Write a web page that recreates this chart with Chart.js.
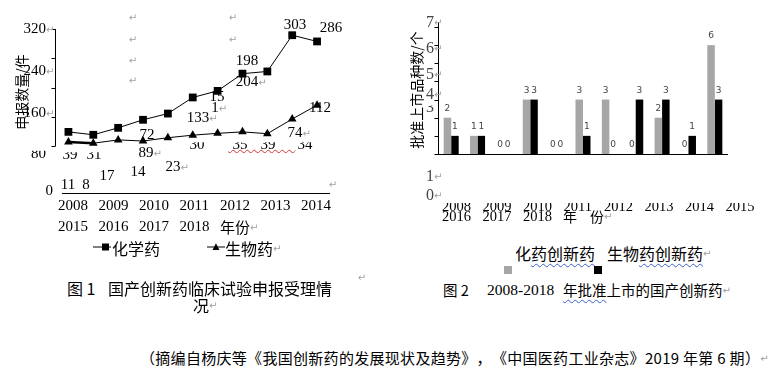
<!DOCTYPE html>
<html>
<head>
<meta charset="utf-8">
<script src="https://cdn.jsdelivr.net/npm/chart.js@4.4.0/dist/chart.umd.min.js"></script>
<style>
  body { margin: 0; background: #fff; }
  #page { position: relative; width: 776px; height: 374px; overflow: hidden; background: #fff;
          font-family: "Noto Sans CJK SC", sans-serif; color: #000; }
  .box { position: absolute; }
  .t { position: absolute; white-space: pre; line-height: 1; text-spacing-trim: space-all; }
  .num { font-family: "Liberation Serif", serif; font-size: 15px; }
  .cjk { font-family: "Noto Sans CJK SC", sans-serif; }
  .ret { position: absolute; left: 100%; top: 50%; transform: translateY(-45%);
         color: #a0a0a0; font: 10px "DejaVu Sans", sans-serif; }
  .wavy { text-decoration: underline wavy #3f5fc8; text-decoration-thickness: 1px; text-underline-offset: 3px; }
</style>
</head>
<body>
<div id="page">
  <div class="box" style="left:0;top:0;width:340px;height:200px"><canvas id="trialChart"></canvas></div>
  <div class="box" style="left:390px;top:0;width:386px;height:200px"><canvas id="approvedChart"></canvas></div>
</div>
<script>
// data
const years = ['2008','2009','2010','2011','2012','2013','2014','2015','2016','2017','2018'];
const chemTrials = [39, 31, 50, 72, 89, 133, 151, 198, 204, 303, 286];   // 化学药
const bioTrials  = [11, 8, 17, 14, 23, 30, 35, 39, 34, 74, 112];        // 生物药
const trialTicks = [0, 80, 160, 240, 320];
const chemApproved = [2, 1, 0, 3, 0, 3, 3, 0, 2, 0, 6];  // 化药创新药
const bioApproved  = [1, 1, 0, 3, 0, 1, 0, 3, 3, 1, 3];  // 生物药创新药
const approvedTicks = [0, 1, 2, 3, 4, 5, 6, 7];

const page = document.getElementById('page');

// hand-drawn axis: y line, small ticks on the left, baseline along the bottom
const axisLines = {
  id: 'axisLines',
  beforeDatasetsDraw(chart, args, opts) {
    const { ctx, chartArea: a, scales: { y } } = chart;
    const x0 = Math.round(a.left) + 0.5;
    ctx.save();
    ctx.strokeStyle = '#000';
    ctx.lineWidth = 1;
    ctx.beginPath();
    ctx.moveTo(x0, y.getPixelForValue(opts.top) - opts.over);
    ctx.lineTo(x0, y.getPixelForValue(0));
    opts.ticks.forEach(v => {
      const py = Math.round(y.getPixelForValue(v)) + 0.5;
      ctx.moveTo(x0 - 4, py);
      ctx.lineTo(x0, py);
    });
    const yb = Math.round(a.bottom) + 0.5;
    ctx.moveTo(a.left + opts.baseStart, yb);
    ctx.lineTo(a.right, yb);
    ctx.stroke();
    ctx.restore();
  }
};

// small value labels above each bar
const barLabels = {
  id: 'barLabels',
  afterDatasetsDraw(chart) {
    const ctx = chart.ctx;
    ctx.save();
    ctx.font = '9px "DejaVu Sans"';
    ctx.fillStyle = '#444';
    ctx.textAlign = 'center';
    ctx.textBaseline = 'middle';
    chart.data.datasets.forEach((ds, di) => {
      chart.getDatasetMeta(di).data.forEach((bar, i) => {
        ctx.fillText(String(ds.data[i]), bar.x, bar.y - 9);
      });
    });
    ctx.restore();
  }
};

// figure 1: line chart
new Chart(document.getElementById('trialChart'), {
  type: 'line',
  data: {
    datasets: [
      { label: '化学药', data: chemTrials.map((v, i) => ({ x: i, y: v })),
        borderColor: '#000', backgroundColor: '#000', borderWidth: 1,
        pointStyle: 'rect', pointRadius: 5.5, pointBorderWidth: 0, clip: false },
      { label: '生物药', data: bioTrials.map((v, i) => ({ x: i, y: v })),
        borderColor: '#000', backgroundColor: '#000', borderWidth: 1,
        segment: { borderWidth: c => c.p0DataIndex === 0 ? 2.5 : 1 },
        pointStyle: 'triangle', pointRadius: 5, pointBorderWidth: 0, clip: false }
    ]
  },
  options: {
    responsive: true, maintainAspectRatio: false, animation: false,
    layout: { padding: { left: 55, right: 10, top: 29, bottom: 7 } },
    scales: {
      x: { type: 'linear', display: false, min: -0.54, max: 10.52 },
      y: { display: false, min: -128, max: 320 }
    },
    plugins: {
      legend: { display: false }, tooltip: { enabled: false },
      axisLines: { ticks: trialTicks, top: 320, over: 0, baseStart: 7 }
    }
  },
  plugins: [axisLines]
});

// figure 2: grouped bars
new Chart(document.getElementById('approvedChart'), {
  type: 'bar',
  data: {
    labels: years,
    datasets: [
      { label: '化药创新药', data: chemApproved, backgroundColor: '#a6a6a6', borderWidth: 0 },
      { label: '生物药创新药', data: bioApproved, backgroundColor: '#000', borderWidth: 0 }
    ]
  },
  options: {
    responsive: true, maintainAspectRatio: false, animation: false,
    layout: { padding: { left: 48, right: 48, top: 27, bottom: 46 } },
    datasets: { bar: { categoryPercentage: 0.57, barPercentage: 1 } },
    scales: {
      x: { display: false },
      y: { display: false, min: 0, max: 7 }
    },
    plugins: {
      legend: { display: false }, tooltip: { enabled: false },
      axisLines: { ticks: approvedTicks, top: 7, over: 5, baseStart: 0 }
    }
  },
  plugins: [axisLines, barLabels]
});

// text laid over the page, as it sits in the source document
function put(html, x, y, cls, align, extra) {
  const d = document.createElement('div');
  d.className = 't ' + (cls || '');
  d.innerHTML = html;
  const tx = align === 'l' ? '0' : align === 'r' ? '-100%' : '-50%';
  d.style.cssText = `left:${x}px;top:${y}px;transform:translate(${tx},-50%);${extra || ''}`;
  page.appendChild(d);
  return d;
}
const RET = '<span class="ret">↵</span>';

// figure 1 labels
put('申报数量/件', 21, 92, 'cjk', 'c', 'font-size:14px;transform:translate(-50%,-50%) rotate(-90deg);');
const trialTickY = [190, 153, 112, 70, 28];
trialTicks.forEach((v, i) => {
  put(String(v) + (i > 1 ? RET : ''), i === 0 ? 53 : 46, trialTickY[i], 'num', 'r',
      i === 1 ? 'clip-path:inset(35% 0 0 0);' : '');
});
const chemLayout = [
  { x: 70, y: 154, clip: 1 }, { x: 94, y: 154, clip: 1 }, null,
  { x: 147, y: 134 }, { x: 146, y: 152, ret: 1 }, { x: 198, y: 117, ret: 1 },
  { x: 217, y: 96, split: { x: 215, y: 107 } }, { x: 247, y: 60 }, { x: 247, y: 81, ret: 1 },
  { x: 295, y: 24 }, { x: 331, y: 27 }
];
const bioLayout = [
  { x: 68, y: 184 }, { x: 86, y: 184 }, { x: 107, y: 175 }, { x: 138, y: 171 }, { x: 173, y: 166, ret: 1 },
  { x: 197, y: 144, clip: 1 }, { x: 240, y: 144, clip: 1 }, { x: 268, y: 144, clip: 1 }, { x: 305, y: 144, clip: 1 },
  { x: 295, y: 132, ret: 1 }, { x: 320, y: 107 }
];
function valueLabels(values, layout) {
  values.forEach((v, i) => {
    const p = layout[i];
    if (!p) return;
    const s = String(v);
    const clip = p.clip ? 'clip-path:inset(38% 0 0 0);' : '';
    if (p.split) {
      put(s.slice(0, 2), p.x, p.y, 'num', 'c');
      put(s.slice(2) + RET, p.split.x, p.split.y, 'num', 'c');
    } else {
      put(s + (p.ret ? RET : ''), p.x, p.y, 'num', 'c', clip);
    }
  });
}
valueLabels(chemTrials, chemLayout);
valueLabels(bioTrials, bioLayout);
put('\u00a0'.repeat(18), 228, 142, 'num', 'l', 'text-decoration:underline wavy #e03030;text-decoration-thickness:1px;text-underline-offset:2px;');
[[133, 17], [133, 39], [133, 60], [133, 80], [233, 17], [233, 39], [333, 184]].forEach(p => {
  put('↵', p[0], p[1], '', 'c', 'color:#a0a0a0;font:10px "DejaVu Sans";');
});
years.slice(0, 7).forEach((y, k) => put(y, 58 + 40.5 * k, 205, 'num', 'l'));
years.slice(7).forEach((y, k) => put(y, 58 + 40.5 * k, 226, 'num', 'l'));
put('年份' + RET, 220, 226, 'cjk', 'l', 'font-size:15px;');

// figure 1 legend and caption
put('', 93, 247, '', 'l', 'width:18px;height:1px;background:#000;');
put('', 102, 247, '', 'l', 'width:7px;height:7px;background:#000;');
put('化学药', 112, 248, 'cjk', 'l', 'font-size:16px;');
put('', 207, 247, '', 'l', 'width:18px;height:1px;background:#000;');
put('▲', 216, 246, '', 'c', 'font:9px "DejaVu Sans";');
put('生物药' + RET, 225, 248, 'cjk', 'l', 'font-size:16px;');
put('图 1', 67, 288, 'cjk', 'l', 'font-size:16px;');
put('国产创新药临床试验申报受理情', 108, 288, 'cjk', 'l', 'font-size:16px;');
put('↵', 362, 277, '', 'c', 'color:#a0a0a0;font:10px "DejaVu Sans";');
put('况' + RET, 193, 305, 'cjk', 'l', 'font-size:16px;');

// figure 2 labels
put('批准上市品种数/个', 416, 90, 'cjk', 'c', 'font-size:14px;transform:translate(-50%,-50%) rotate(-90deg);');
const approvedTickY = [null, null, null, 107, 94, 74, 48, 22];
approvedTicks.forEach((v, i) => {
  if (approvedTickY[i] === null) return;
  put(String(v) + (i > 3 ? RET : ''), 430, approvedTickY[i], 'num', 'c',
      'font-size:16px;color:#444;' + (i === 3 ? 'clip-path:inset(40% 0 0 0);' : ''));
});
put('1' + RET, 430, 176, 'num', 'c', 'font-size:16px;color:#444;');
put('0' + RET, 430, 195, 'num', 'c', 'font-size:16px;color:#444;');
years.slice(0, 8).forEach((y, k) => put(y, 442 + 40.5 * k, 206, 'num', 'l', 'font-size:14.5px;clip-path:inset(30% 0 0 0);'));
years.slice(8).forEach((y, k) => put(y, 442 + 40.5 * k, 216, 'num', 'l', 'font-size:14.5px;'));
put('年', 563, 216, 'cjk', 'l', 'font-size:14px;');
put('份' + RET, 590, 216, 'cjk', 'l', 'font-size:14px;');

// figure 2 legend and caption
put('化<span class="wavy">药创新药</span>', 515, 253, 'cjk', 'l', 'font-size:16px;');
put('生物<span class="wavy">药创新药</span>' + RET, 607, 253, 'cjk', 'l', 'font-size:16px;');
put('', 504, 270, '', 'l', 'width:8px;height:8px;background:#a6a6a6;');
put('', 594, 270, '', 'l', 'width:8px;height:8px;background:#000;');
put('图 2', 443, 290, 'cjk', 'l', 'font-size:14.5px;');
put('2008-2018', 487, 290, 'num', 'l', 'font-size:15.5px;');
put('<span class="wavy">年批准</span>上市的国产创新药' + RET, 563, 290, 'cjk', 'l', 'font-size:14.5px;');

// source line
put('（摘编自杨庆等《我国创新药的发展现状及趋势》，《中国医药工业杂志》2019 年第 6 期）' + RET,
    140, 357, 'cjk', 'l', 'font-size:15px;letter-spacing:0.3px;');
</script>
</body>
</html>
